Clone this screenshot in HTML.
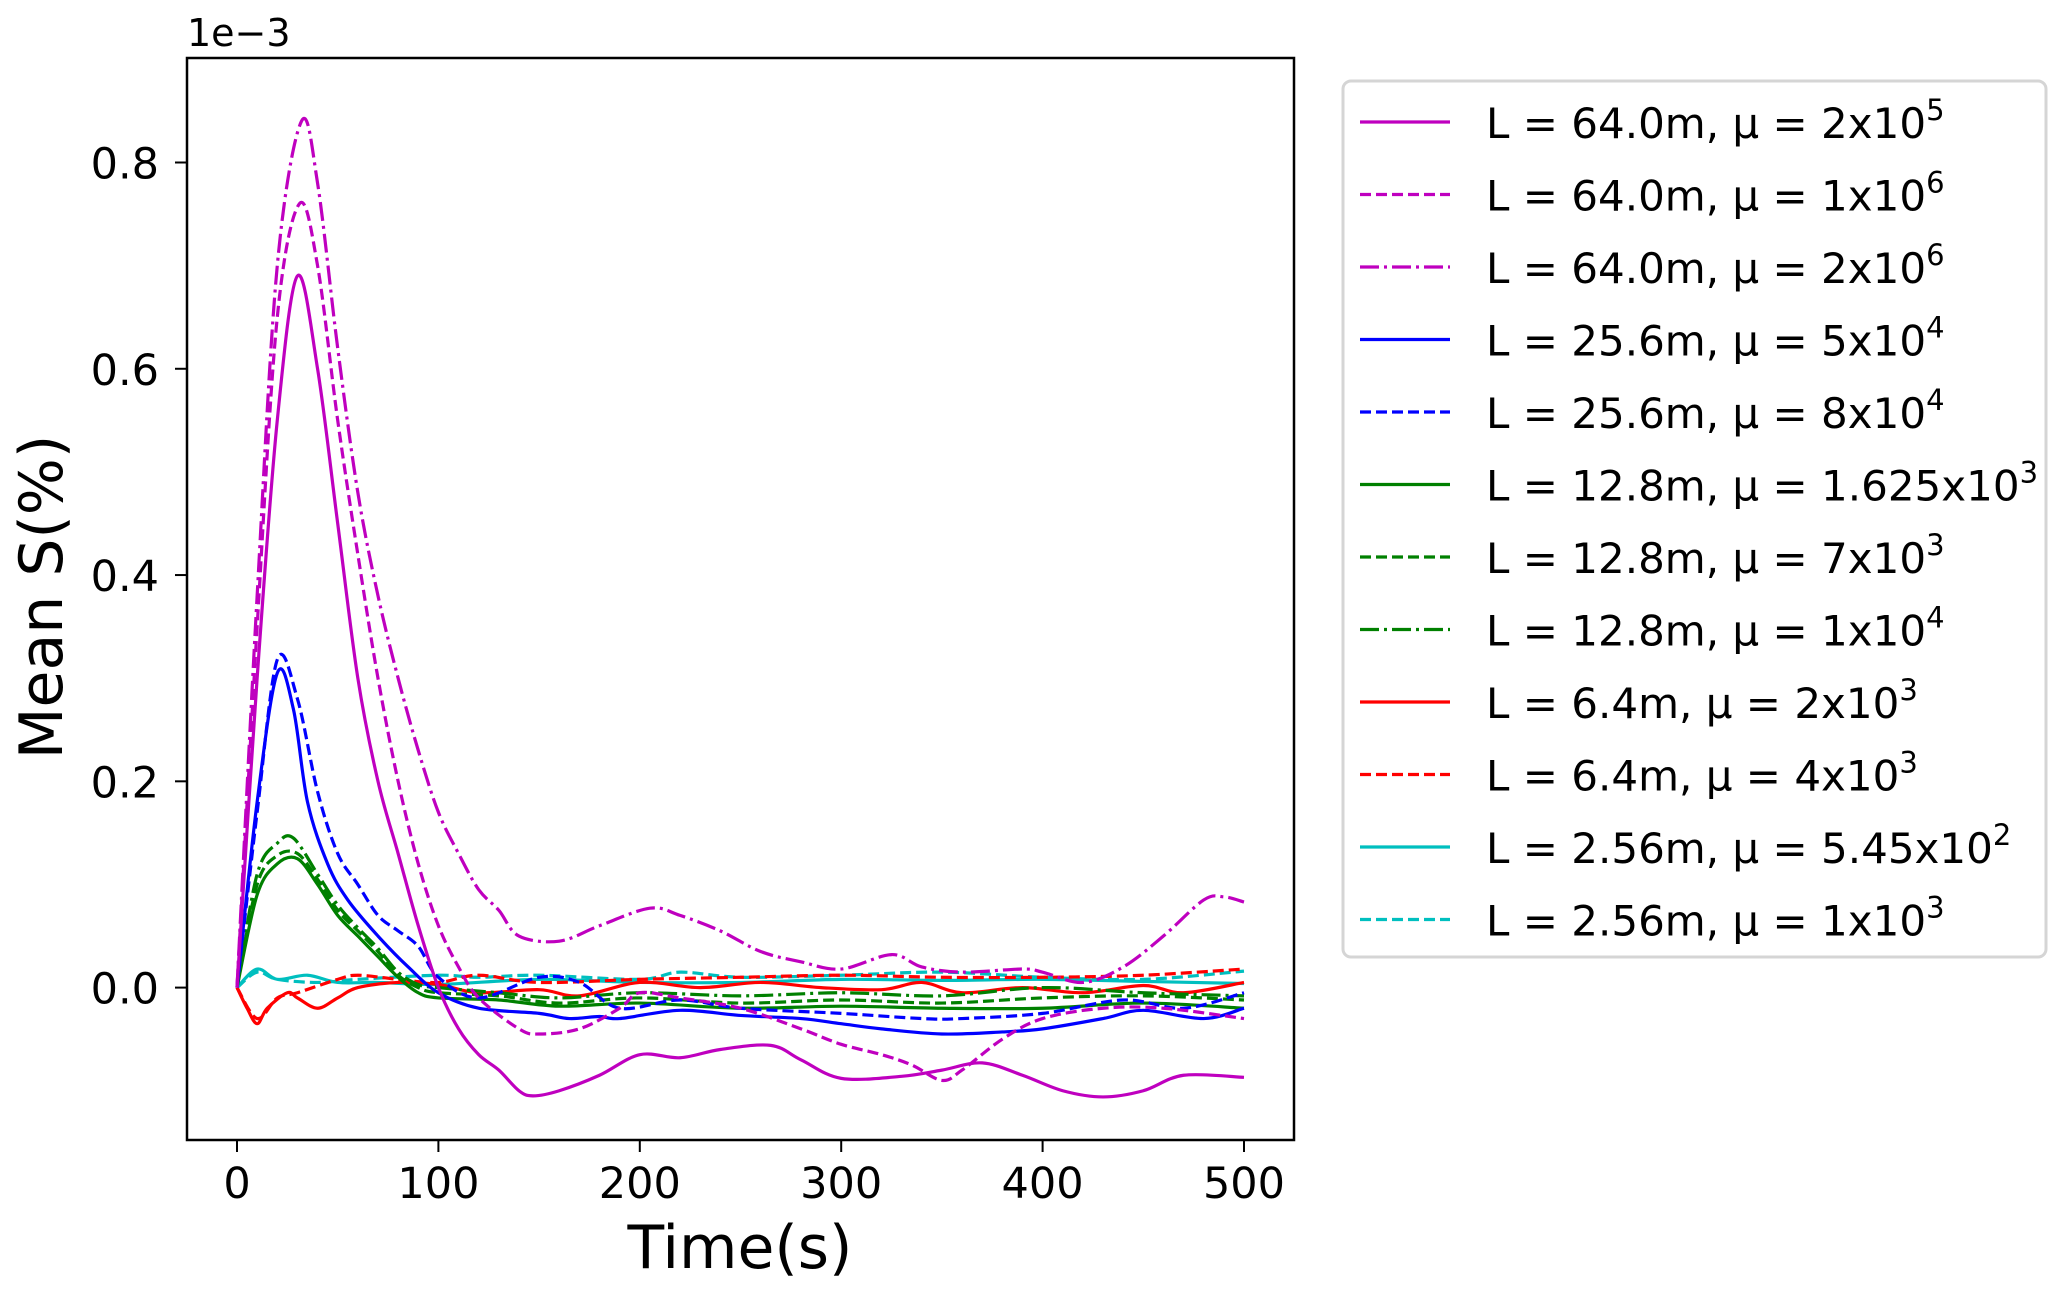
<!DOCTYPE html>
<html><head><meta charset="utf-8"><style>
html,body{margin:0;padding:0;background:#fff;}
svg{display:block;font-family:"DejaVu Sans","Liberation Sans",sans-serif;}
</style></head><body>
<svg id="chart" width="2067" height="1294" viewBox="0 0 2067 1294">
<g id="plot"></g>
<g id="axes"></g>
<g id="legend"></g>
</svg>
<script>
const xTicks=[0,100,200,300,400,500];
const yTicks=[0.0,0.2,0.4,0.6,0.8];
const yTickLabels=["0.0","0.2","0.4","0.6","0.8"];
const seriesLabels=[["L = 64.0m, μ = 2x10","5"],["L = 64.0m, μ = 1x10","6"],["L = 64.0m, μ = 2x10","6"],["L = 25.6m, μ = 5x10","4"],["L = 25.6m, μ = 8x10","4"],["L = 12.8m, μ = 1.625x10","3"],["L = 12.8m, μ = 7x10","3"],["L = 12.8m, μ = 1x10","4"],["L = 6.4m, μ = 2x10","3"],["L = 6.4m, μ = 4x10","3"],["L = 2.56m, μ = 5.45x10","2"],["L = 2.56m, μ = 1x10","3"]];
const seriesColors=["#bf00bf","#bf00bf","#bf00bf","#0000ff","#0000ff","#008000","#008000","#008000","#ff0000","#ff0000","#00bfbf","#00bfbf"];
const seriesStyles=["solid","dashed","dashdot","solid","dashed","solid","dashed","dashdot","solid","dashed","solid","dashed"];
const m1T=[0,10,20,30,40,50,60,70,80,90,100,110,120,130,140,147,160,180,200,220,240,265,280,300,330,350,370,390,410,430,450,470,500];
const m1V=[0,0.3,0.55,0.69,0.6,0.45,0.3,0.2,0.13,0.06,0.0,-0.04,-0.065,-0.08,-0.1,-0.105,-0.1,-0.085,-0.065,-0.068,-0.06,-0.056,-0.07,-0.088,-0.086,-0.08,-0.073,-0.085,-0.1,-0.106,-0.1,-0.085,-0.087];
const m2T=[0,10,20,31,40,50,60,70,80,90,100,110,120,140,150,170,190,200,220,250,280,300,320,335,350,360,380,400,430,460,500];
const m2V=[0,0.35,0.65,0.76,0.7,0.55,0.42,0.3,0.2,0.12,0.06,0.02,-0.01,-0.04,-0.045,-0.04,-0.02,-0.005,-0.01,-0.02,-0.04,-0.055,-0.065,-0.075,-0.09,-0.08,-0.05,-0.03,-0.02,-0.02,-0.03];
const m3T=[0,10,20,32,40,50,60,70,80,90,100,110,120,130,140,160,180,205,220,240,260,280,300,325,340,360,390,400,420,440,460,480,490,500];
const m3V=[0,0.38,0.7,0.84,0.78,0.62,0.48,0.38,0.3,0.23,0.17,0.13,0.095,0.075,0.05,0.045,0.06,0.077,0.07,0.055,0.035,0.025,0.018,0.032,0.02,0.015,0.018,0.015,0.005,0.02,0.05,0.085,0.088,0.083];
const b1T=[0,10,20,28,35,45,55,70,85,100,120,150,165,180,190,220,250,280,300,320,350,380,400,430,450,480,500];
const b1V=[0,0.18,0.305,0.27,0.18,0.12,0.085,0.05,0.02,-0.005,-0.02,-0.025,-0.03,-0.028,-0.03,-0.022,-0.027,-0.03,-0.035,-0.04,-0.045,-0.043,-0.04,-0.03,-0.022,-0.03,-0.02];
const b2T=[0,10,20,30,40,50,60,70,80,90,100,120,150,170,190,220,250,300,340,360,400,440,470,500];
const b2V=[0,0.17,0.318,0.28,0.19,0.13,0.1,0.07,0.055,0.04,0.01,-0.01,0.01,0.005,-0.02,-0.012,-0.02,-0.025,-0.03,-0.03,-0.025,-0.012,-0.02,-0.005];
const g1T=[0,10,20,30,40,50,60,70,80,90,100,130,160,200,250,300,350,400,450,500];
const g1V=[0,0.09,0.12,0.125,0.1,0.07,0.05,0.03,0.01,-0.005,-0.01,-0.012,-0.018,-0.015,-0.02,-0.018,-0.02,-0.02,-0.015,-0.02];
const g2T=[0,10,20,30,40,50,60,70,80,90,100,130,160,200,250,300,350,400,450,500];
const g2V=[0,0.1,0.128,0.13,0.105,0.075,0.055,0.035,0.012,0.0,-0.005,-0.008,-0.015,-0.01,-0.015,-0.012,-0.015,-0.01,-0.008,-0.012];
const g3T=[0,10,20,28,40,50,60,70,80,90,100,130,160,200,250,300,350,400,450,500];
const g3V=[0,0.11,0.14,0.145,0.11,0.08,0.058,0.038,0.015,0.003,0.0,-0.005,-0.01,-0.005,-0.008,-0.005,-0.008,0.0,-0.005,-0.008];
const r1T=[0,5,10,15,25,30,40,50,60,80,100,120,150,170,200,230,260,290,320,340,360,390,420,450,470,500];
const r1V=[0,-0.02,-0.035,-0.02,-0.005,-0.01,-0.02,-0.01,0.0,0.005,0.003,-0.005,-0.002,-0.008,0.005,0.0,0.005,0.0,-0.002,0.005,-0.005,0.0,-0.005,0.002,-0.005,0.005];
const r2T=[0,10,20,30,50,60,80,100,120,150,200,250,300,350,400,450,500];
const r2V=[0,-0.03,-0.01,-0.005,0.008,0.012,0.008,0.005,0.012,0.005,0.008,0.01,0.012,0.01,0.01,0.012,0.018];
const c1T=[0,10,20,35,50,70,100,150,200,250,300,350,400,450,500];
const c1V=[0,0.018,0.008,0.012,0.005,0.005,0.003,0.008,0.005,0.005,0.008,0.007,0.008,0.006,0.004];
const c2T=[0,10,20,40,60,100,120,150,200,220,250,300,350,400,450,500];
const c2V=[0,0.015,0.008,0.005,0.008,0.012,0.01,0.012,0.008,0.015,0.01,0.012,0.015,0.01,0.008,0.016];
const seriesT=[m1T,m2T,m3T,b1T,b2T,g1T,g2T,g3T,r1T,r2T,c1T,c2T];
const seriesV=[m1V,m2V,m3V,b1V,b2V,g1V,g2V,g3V,r1V,r2V,c1V,c2V];

const NS="http://www.w3.org/2000/svg";
const L=187,R=1294,T=58,B=1140;
const X0=237,X500=1244,Y0=987.6,Y08=162.5;
function xs(t){return X0+(X500-X0)*t/500;}
function ys(v){return Y0+(Y08-Y0)*v/0.8;}
function mk(tag,attrs,parent){const e=document.createElementNS(NS,tag);for(const k in attrs)e.setAttribute(k,attrs[k]);parent.appendChild(e);return e;}
const dashes={solid:"",dashed:"11,5",dashdot:"19,5,3,5"};
function pathD(ts,vs){const p=ts.map((t,i)=>[xs(t),ys(vs[i])]);let d="M"+p[0][0]+","+p[0][1];
for(let i=0;i<p.length-1;i++){const p0=p[i-1]||p[i],p1=p[i],p2=p[i+1],p3=p[i+2]||p2;
d+=" C"+(p1[0]+(p2[0]-p0[0])/6)+","+(p1[1]+(p2[1]-p0[1])/6)+" "+(p2[0]-(p3[0]-p1[0])/6)+","+(p2[1]-(p3[1]-p1[1])/6)+" "+p2[0]+","+p2[1];}return d;}
const plot=document.getElementById('plot');
const clip=mk('clipPath',{id:'cp'},plot);mk('rect',{x:L,y:T,width:R-L,height:B-T},clip);
const lg=mk('g',{'clip-path':'url(#cp)'},plot);
for(let i=seriesT.length-1;i>=0;i--){
 const p=mk('path',{d:pathD(seriesT[i],seriesV[i]),fill:'none',stroke:seriesColors[i],'stroke-width':3.2,'stroke-dasharray':dashes[seriesStyles[i]],'stroke-linejoin':'round'},lg);
 
 
}
const ax=document.getElementById('axes');
const frame=mk('rect',{x:L,y:T,width:R-L,height:B-T,fill:'none',stroke:'#000','stroke-width':2.5},ax);

xTicks.forEach(t=>{mk('line',{x1:xs(t),x2:xs(t),y1:B,y2:B+12,stroke:'#000','stroke-width':2},ax);
 const tx=mk('text',{x:xs(t),y:B+58,'font-size':43,'text-anchor':'middle',fill:'#000'},ax);tx.textContent=t;
 });
yTicks.forEach((v,i)=>{mk('line',{x1:L-12,x2:L,y1:ys(v),y2:ys(v),stroke:'#000','stroke-width':2},ax);
 const tx=mk('text',{x:L-28,y:ys(v)+16,'font-size':43,'text-anchor':'end',fill:'#000'},ax);tx.textContent=yTickLabels[i];
 });
const off=mk('text',{x:L,y:46,'font-size':38,fill:'#000'},ax);off.textContent="1e\u22123";

const xl=mk('text',{x:740,y:1268,'font-size':60,'text-anchor':'middle',fill:'#000'},ax);xl.textContent="Time(s)";

const yl=mk('text',{x:0,y:0,'font-size':60,'text-anchor':'middle',fill:'#000',transform:'translate(62,597) rotate(-90)'},ax);yl.textContent="Mean S(%)";

const leg=document.getElementById('legend');
const lb=mk('rect',{x:1343,y:81,width:703,height:876,rx:8,fill:'#fff',stroke:'#d5d5d5','stroke-width':3},leg);

seriesLabels.forEach((lab,i)=>{const yb=138+i*72.5;
 const g=mk('g',{},leg);
 mk('line',{x1:1360,x2:1450,y1:yb-16,y2:yb-16,stroke:seriesColors[i],'stroke-width':3.2,'stroke-dasharray':dashes[seriesStyles[i]]},g);
 const tx=mk('text',{x:1486,y:yb,'font-size':42,fill:'#000'},g);tx.textContent=lab[0];
 const sp=mk('tspan',{dy:-18,'font-size':29},tx);sp.textContent=lab[1];});
</script>
</body></html>
